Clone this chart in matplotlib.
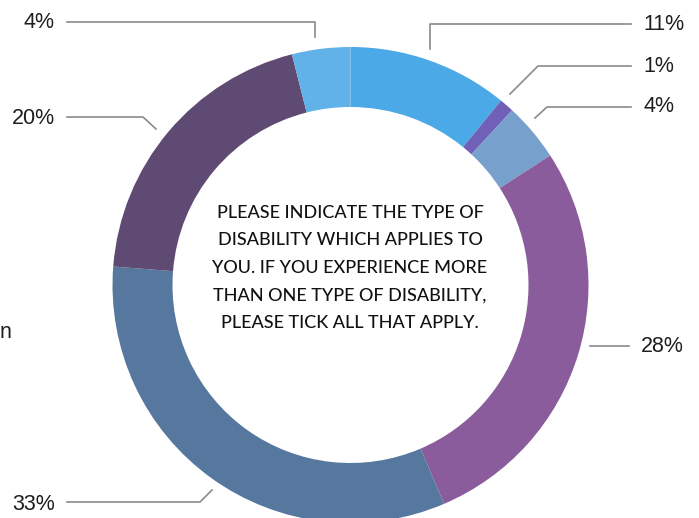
import matplotlib.pyplot as plt

# share of respondents, clockwise from 12 o'clock
values = [11, 1, 4, 28, 33, 20, 4]
labels = ["11%", "1%", "4%", "28%", "33%", "20%", "4%"]
colors = ["#4aa9e6", "#7060b8", "#78a0cc", "#8a5c9c", "#56789e", "#5e4a72", "#62b2ea"]

title = ("PLEASE INDICATE THE TYPE OF\nDISABILITY WHICH APPLIES TO\n"
         "YOU. IF YOU EXPERIENCE MORE\nTHAN ONE TYPE OF DISABILITY,\n"
         "PLEASE TICK ALL THAT APPLY.")

# label text position, elbow, anchor on ring (pixels, y down)
label_pos = [(643, 24), (643, 67), (643, 107), (641, 347), (55, 504), (55, 118), (55, 23)]
elbows = [(430, 24), (538, 66), (547, 107), (590, 346), (200, 502), (143, 117), (315, 22)]
anchors = [(430, 49), (510, 94), (535, 118), (590, 346), (212, 490), (156, 129), (315, 37)]

fig = plt.figure(figsize=(6.99, 5.18), dpi=100)
ax = fig.add_axes([0, 0, 1, 1])

ax.pie(values, colors=colors, startangle=-90, counterclock=True,
       center=(350.5, 285), radius=238, frame=True,
       wedgeprops=dict(width=60, edgecolor="none"))
ax.set_xlim(0, 699)
ax.set_ylim(518, 0)
ax.set_aspect("equal")
ax.axis("off")

for lab, (tx, ty), (ex, ey), (axx, ayy) in zip(labels, label_pos, elbows, anchors):
    right = tx > 350
    lx = tx - 12 if right else tx + 12
    ax.plot([lx, ex, axx], [ey, ey, ayy], color="#8a8a8a", lw=1.2)
    ax.text(tx, ty, lab, ha="left" if right else "right", va="center",
            fontsize=15.5, family="Liberation Sans", color="#1e1e1e")

ax.text(350, 268, title, ha="center", va="center", fontsize=13,
        family="Lato", fontweight="medium", color="#111111", linespacing=1.9)
ax.text(0, 333, "n", ha="left", va="center", fontsize=15.5,
        family="Liberation Sans", color="#1e1e1e")

fig.savefig("out.png", dpi=100)
